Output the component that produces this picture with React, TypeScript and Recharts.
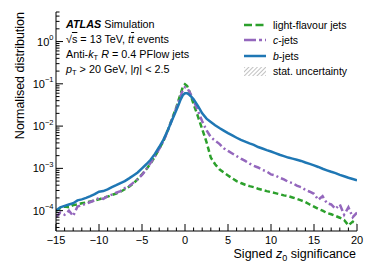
import { LineChart, Line, XAxis, YAxis, Legend, Label } from "recharts"

// bin centres of the signed z0 significance histogram (finer around the peak)
const binCentres = [
  -15, -14.5, -14, -13.5, -13, -12.5, -12, -11.5, -11, -10.5, -10, -9.5, -9, -8.5, -8, -7.5, -7, -6.5,
  -6, -5.5, -5, -4.5, -4, -3.5, -3, -2.5, -2, -1.5, -1, -0.75, -0.5, -0.25, 0, 0.25, 0.5, 0.75, 1, 1.5,
  2, 2.5, 3, 3.5, 4, 4.5, 5, 5.5, 6, 6.5, 7, 7.5, 8, 8.5, 9, 9.5, 10, 10.5, 11, 11.5, 12, 12.5, 13,
  13.5, 14, 14.5, 15, 15.5, 16, 16.5, 17, 17.5, 18, 18.5, 19, 19.5, 20
]

const lightJets = [
  1.0e-4, 1.15e-4, 1.25e-4, 1.2e-4, 1.35e-4, 1.4e-4, 1.5e-4, 1.55e-4, 1.65e-4, 1.75e-4, 1.85e-4, 2.0e-4,
  2.15e-4, 2.35e-4, 2.55e-4, 2.8e-4, 3.2e-4, 3.7e-4, 4.4e-4, 5.6e-4, 7.2e-4, 9.5e-4, 1.3e-3, 1.9e-3,
  2.9e-3, 4.5e-3, 8.0e-3, 1.5e-2, 2.8e-2, 4.1e-2, 5.9e-2, 8.5e-2, 9.8e-2, 8.9e-2, 6.7e-2, 4.7e-2,
  3.3e-2, 1.7e-2, 8.5e-3, 4.2e-3, 1.8e-3, 1.25e-3, 9.5e-4, 8.0e-4, 6.8e-4, 5.8e-4, 5.0e-4, 4.5e-4,
  4.1e-4, 3.8e-4, 3.6e-4, 3.3e-4, 3.1e-4, 2.9e-4, 2.75e-4, 2.6e-4, 2.45e-4, 2.3e-4, 2.2e-4, 2.05e-4,
  1.9e-4, 1.75e-4, 1.6e-4, 1.4e-4, 1.25e-4, 1.1e-4, 1.0e-4, 8.8e-5, 8.2e-5, 7.5e-5, 6.8e-5, 6.0e-5,
  4.5e-5, 5.5e-5, 5.0e-5
]

const cJets = [
  7e-5, 9e-5, 8e-5, 1.0e-4, 7.5e-5, 1.25e-4, 1.35e-4, 1.45e-4, 1.6e-4, 1.75e-4, 2.0e-4, 1.9e-4,
  2.2e-4, 2.4e-4, 2.65e-4, 2.9e-4, 3.4e-4, 3.8e-4, 4.6e-4, 5.5e-4, 7.0e-4, 9.5e-4, 1.35e-3, 1.9e-3,
  2.9e-3, 4.4e-3, 7.8e-3, 1.45e-2, 2.7e-2, 3.8e-2, 5.2e-2, 7.2e-2, 8.3e-2, 7.9e-2, 6.6e-2, 5.2e-2,
  4.0e-2, 2.3e-2, 1.3e-2, 8.0e-3, 5.5e-3, 4.5e-3, 3.8e-3, 3.0e-3, 2.6e-3, 2.25e-3, 1.95e-3, 1.7e-3,
  1.5e-3, 1.3e-3, 1.15e-3, 1.05e-3, 9.2e-4, 8.5e-4, 7.2e-4, 6.8e-4, 6.0e-4, 5.5e-4, 4.8e-4, 4.5e-4,
  3.9e-4, 3.6e-4, 3.1e-4, 2.8e-4, 2.5e-4, 1.8e-4, 2.2e-4, 1.5e-4, 1.4e-4, 1.1e-4, 1.4e-4, 8e-5,
  1.2e-4, 7e-5, 9e-5
]

const bJets = [
  1.0e-4, 1.2e-4, 1.3e-4, 1.4e-4, 1.5e-4, 1.75e-4, 1.85e-4, 2.0e-4, 2.2e-4, 2.45e-4, 2.8e-4, 2.9e-4,
  3.2e-4, 3.6e-4, 4.0e-4, 4.5e-4, 5.0e-4, 5.8e-4, 6.8e-4, 8.0e-4, 1.0e-3, 1.25e-3, 1.6e-3, 2.2e-3,
  3.2e-3, 4.8e-3, 8.0e-3, 1.4e-2, 2.4e-2, 3.2e-2, 4.3e-2, 5.4e-2, 6.0e-2, 6.0e-2, 5.5e-2, 4.9e-2,
  4.3e-2, 3.0e-2, 2.0e-2, 1.5e-2, 1.25e-2, 1.05e-2, 9.0e-3, 7.8e-3, 6.8e-3, 6.0e-3, 5.3e-3, 4.7e-3,
  4.3e-3, 3.9e-3, 3.6e-3, 3.2e-3, 2.95e-3, 2.7e-3, 2.5e-3, 2.3e-3, 2.1e-3, 1.95e-3, 1.8e-3, 1.7e-3,
  1.6e-3, 1.5e-3, 1.38e-3, 1.28e-3, 1.18e-3, 1.08e-3, 9.8e-4, 9.0e-4, 8.3e-4, 7.7e-4, 7.0e-4, 6.5e-4,
  6.0e-4, 5.6e-4, 5.2e-4
]

const xTicks = [
  -15, -14, -13, -12, -11, -10, -9, -8, -7, -6, -5, -4, -3, -2, -1, 0, 1, 2, 3, 4, 5, 6, 7, 8, 9, 10,
  11, 12, 13, 14, 15, 16, 17, 18, 19, 20
]
const yDecades = [1e-5, 1e-4, 1e-3, 1e-2, 1e-1, 1]
const yMantissas = [1, 2, 3, 4, 5, 6, 7, 8, 9]
const yDomain = [3.3e-5, 5]
const yTicks = yDecades
  .flatMap((d) => yMantissas.map((m) => m * d))
  .filter((v) => v >= yDomain[0] && v <= yDomain[1])

const data = binCentres.map((x, i) => ({ x, light: lightJets[i], c: cJets[i], b: bJets[i] }))

const FONT = "'Liberation Sans', Arial, Helvetica, sans-serif"
const GREEN = "#2ca02c"
const PURPLE = "#9467bd"
const BLUE = "#1f77b4"

const minus = (v: number) => (v < 0 ? `\u2212${Math.abs(v)}` : `${v}`)
const isDecade = (v: number) => Math.abs(Math.log10(v) - Math.round(Math.log10(v))) < 1e-6

function BottomTick({ x, y, payload }: any) {
  const major = payload.value % 5 === 0
  return (
    <g>
      <line x1={x} y1={y} x2={x} y2={y - (major ? 7 : 3.5)} stroke="#000" />
      {major && (
        <text x={x} y={y + 12.5} textAnchor="middle" fontSize={11} fontFamily={FONT} fill="#000">
          {minus(payload.value)}
        </text>
      )}
    </g>
  )
}

function TopTick({ x, y, payload }: any) {
  const major = payload.value % 5 === 0
  return <line x1={x} y1={y} x2={x} y2={y + (major ? 7 : 3.5)} stroke="#000" />
}

function LeftTick({ x, y, payload }: any) {
  const major = isDecade(payload.value)
  const exp = Math.round(Math.log10(payload.value))
  return (
    <g>
      <line x1={x} y1={y} x2={x + (major ? 7 : 3.5)} y2={y} stroke="#000" />
      {major && (
        <text x={x - 2.5} y={y + 4} textAnchor="end" fontSize={11} fontFamily={FONT} fill="#000">
          <tspan>10</tspan>
          <tspan dy={-5.5} fontSize={7.5}>{minus(exp)}</tspan>
        </text>
      )}
    </g>
  )
}

function RightTick({ x, y, payload }: any) {
  const major = isDecade(payload.value)
  return <line x1={x} y1={y} x2={x - (major ? 7 : 3.5)} y2={y} stroke="#000" />
}

function XTitle({ viewBox }: any) {
  return (
    <text x={viewBox.x + viewBox.width - 1} y={viewBox.y + 26.5} textAnchor="end" fontSize={12.5} fontFamily={FONT} fill="#000">
      Signed <tspan fontStyle="italic">z</tspan>
      <tspan dy={3} fontSize={9}>0</tspan>
      <tspan dy={-3}> significance</tspan>
    </text>
  )
}

function YTitle({ viewBox }: any) {
  const x = 24
  const y = viewBox.y
  return (
    <text x={x} y={y} transform={`rotate(-90, ${x}, ${y})`} textAnchor="end" fontSize={12.5} fontFamily={FONT} fill="#000">
      Normalised distribution
    </text>
  )
}

const legendRows = [
  { label: "light-flavour jets", color: GREEN, dash: "8 3.5" },
  { label: "c-jets", color: PURPLE, dash: "12 3 3 3" },
  { label: "b-jets", color: BLUE, dash: "" }
]

function LegendBox() {
  const row = { display: "flex", alignItems: "center", height: 15.5 }
  return (
    <div style={{ fontFamily: FONT, fontSize: 10.5, color: "#000", whiteSpace: "nowrap" }}>
      {legendRows.map((r) => (
        <div key={r.label} style={row}>
          <svg width={22} height={8} style={{ marginRight: 7 }}>
            <line x1={0} y1={4} x2={22} y2={4} stroke={r.color} strokeWidth={2.5} strokeDasharray={r.dash} />
          </svg>
          {r.label === "light-flavour jets" ? (
            <span>{r.label}</span>
          ) : (
            <span>
              <i>{r.label[0]}</i>
              {r.label.slice(1)}
            </span>
          )}
        </div>
      ))}
      <div style={row}>
        <svg width={22} height={9} style={{ marginRight: 7 }}>
          <defs>
            <pattern id="hatch" width={3} height={3} patternUnits="userSpaceOnUse" patternTransform="rotate(45)">
              <line x1={0} y1={0} x2={0} y2={3} stroke="#777" strokeWidth={0.9} />
            </pattern>
          </defs>
          <rect x={0} y={0} width={22} height={9} fill="url(#hatch)" />
        </svg>
        <span>stat. uncertainty</span>
      </div>
    </div>
  )
}

export default function App() {
  const sub = { fontSize: 7.5, verticalAlign: "-2px", lineHeight: 0 }
  return (
    <div style={{ position: "absolute", left: 0, top: 0, width: 374, height: 280, background: "#fff" }}>
      <LineChart width={374} height={280} data={data} margin={{ top: 12, right: 17, left: 0, bottom: 0 }}>
        <XAxis
          xAxisId="b"
          type="number"
          dataKey="x"
          domain={[-15, 20]}
          allowDataOverflow
          ticks={xTicks}
          interval={0}
          tickSize={0}
          tickMargin={0}
          tickLine={false}
          tick={BottomTick}
          height={49}
          axisLine={{ stroke: "#000" }}
        >
          <Label content={XTitle} />
        </XAxis>
        <XAxis
          xAxisId="t"
          orientation="top"
          type="number"
          dataKey="x"
          domain={[-15, 20]}
          allowDataOverflow
          ticks={xTicks}
          interval={0}
          tickSize={0}
          tickMargin={0}
          tickLine={false}
          tick={TopTick}
          height={0}
          axisLine={{ stroke: "#000" }}
        />
        <YAxis
          yAxisId="l"
          type="number"
          scale="log"
          domain={yDomain}
          allowDataOverflow
          ticks={yTicks}
          interval={0}
          tickSize={0}
          tickMargin={0}
          tickLine={false}
          tick={LeftTick}
          width={56}
          axisLine={{ stroke: "#000" }}
        >
          <Label content={YTitle} />
        </YAxis>
        <YAxis
          yAxisId="r"
          orientation="right"
          type="number"
          scale="log"
          domain={yDomain}
          allowDataOverflow
          ticks={yTicks}
          interval={0}
          tickSize={0}
          tickMargin={0}
          tickLine={false}
          tick={RightTick}
          width={0}
          axisLine={{ stroke: "#000" }}
        />
        <Legend
          layout="vertical"
          align="center"
          verticalAlign="middle"
          content={LegendBox}
          wrapperStyle={{ left: 244, top: 17, width: 130, height: 64 }}
        />
        <Line xAxisId="b" yAxisId="l" dataKey="light" stroke={GREEN} strokeWidth={2.5} strokeDasharray="5.5 3" dot={false} isAnimationActive={false} />
        <Line xAxisId="b" yAxisId="l" dataKey="c" stroke={PURPLE} strokeWidth={2.5} strokeDasharray="7 3 2 3" dot={false} isAnimationActive={false} />
        <Line xAxisId="b" yAxisId="l" dataKey="b" stroke={BLUE} strokeWidth={2.5} dot={false} isAnimationActive={false} />
      </LineChart>
      <div
        style={{
          position: "absolute",
          left: 66,
          top: 17,
          fontFamily: FONT,
          fontSize: 10.8,
          lineHeight: "15px",
          color: "#000",
          whiteSpace: "nowrap"
        }}
      >
        <div>
          <b>
            <i>ATLAS</i>
          </b>{" "}
          Simulation
        </div>
        <div>
          √<span style={{ textDecoration: "overline" }}>s</span> = 13 TeV, <i>t</i>
          <i style={{ textDecoration: "overline" }}>t</i> events
        </div>
        <div>
          Anti-<i>k</i>
          <sub style={sub}>T</sub> <i>R</i> = 0.4 PFlow jets
        </div>
        <div>
          <i>p</i>
          <sub style={sub}>T</sub> &gt; 20 GeV, |<i>η</i>| &lt; 2.5
        </div>
      </div>
    </div>
  )
}
